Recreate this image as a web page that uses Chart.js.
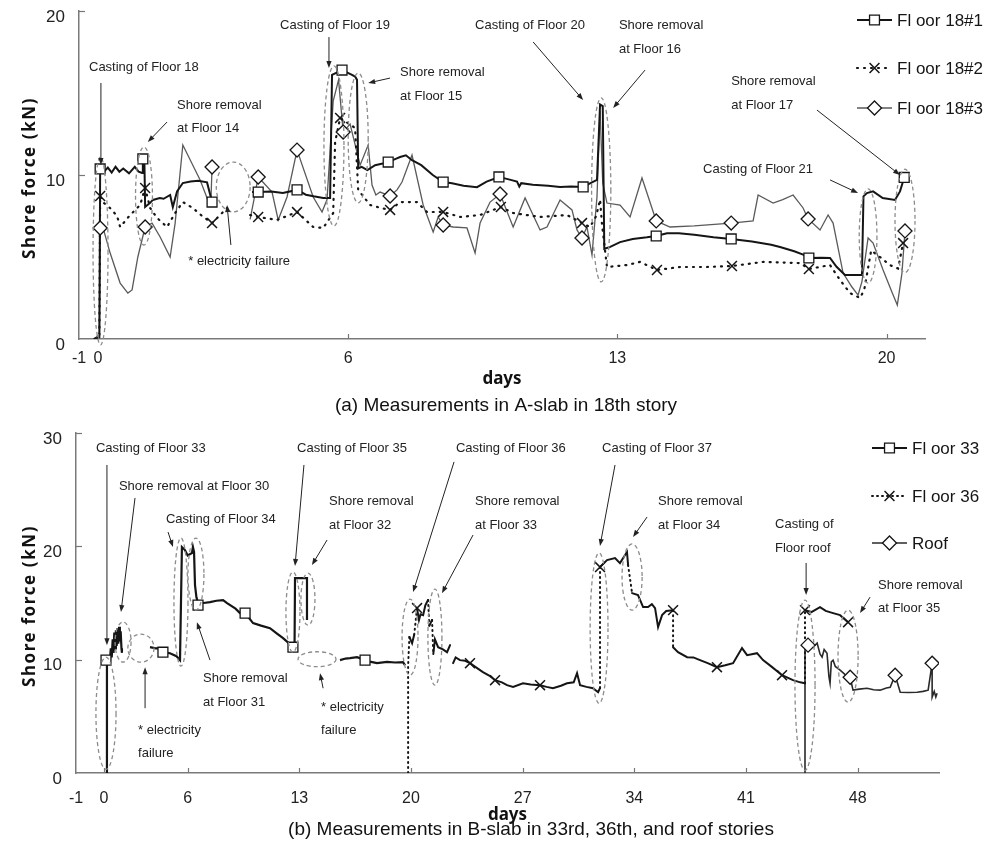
<!DOCTYPE html>
<html>
<head>
<meta charset="utf-8">
<script src="https://cdn.jsdelivr.net/npm/chart.js@4.4.0/dist/chart.umd.min.js"></script>
<style>
  body { margin: 0; background: #fff; }
  .box { position: absolute; left: 0; width: 991px; }
</style>
</head>
<body>
<div class="box" style="top:0"><canvas id="chartA" width="991" height="420"></canvas></div>
<div class="box" style="top:420px"><canvas id="chartB" width="991" height="430"></canvas></div>
<script>
// ---------- (a) A-slab, 18th story : [day, shore force kN] ----------
const floor18_1 = [[-0.60,0],[-0.47,0.1],[-0.45,10.37],[-0.35,10.2],[-0.25,10.45],[-0.15,10.15],[-0.05,10.5],[0.05,10.2],[0.15,10.4],[0.30,10.1],
  [0.45,10.5],[0.55,10.2],[0.64,10.12],[0.66,10.98],[0.70,10.95],[0.72,8.05],[0.85,8.3],[0.92,8.48],[1.10,8.6],[1.20,8.55],
  [1.37,8.78],[1.44,8.05],[1.55,9.0],[1.70,9.51],[1.90,9.6],[2.10,9.65],[2.33,9.55],[2.46,8.35],[3.0,null],[3.50,8.96],
  [3.66,8.96],[4.00,9.0],[4.30,8.9],[4.67,9.09],[4.90,8.8],[5.10,8.7],[5.35,8.6],[5.53,8.6],[5.58,16.1],[5.84,16.4],
  [6.10,16.1],[6.18,16.0],[6.23,15.8],[6.26,10.4],[6.35,10.5],[6.50,10.3],[6.70,10.6],[6.90,10.7],[7.04,10.79],[7.25,11.0],
  [7.35,11.1],[7.50,11.2],[7.66,10.9],[7.90,10.6],[8.20,10.0],[8.47,9.57],[8.70,9.5],[9.00,9.35],[9.35,9.26],[9.60,9.6],
  [9.92,9.88],[10.15,9.75],[10.39,9.6],[10.45,9.3],[10.50,9.5],[10.80,9.4],[11.20,9.35],[11.51,9.27],[11.80,9.3],[12.11,9.27],
  [12.30,9.5],[12.47,9.7],[12.55,14.3],[12.62,14.2],[12.66,5.5],[12.80,5.6],[13.07,5.91],[13.40,6.1],[13.77,6.2],[14.01,6.28],
  [14.29,6.45],[14.60,6.45],[15.00,6.35],[15.50,6.2],[15.96,6.10],[16.50,5.95],[17.00,5.75],[17.23,5.61],[17.60,5.35],[17.83,5.15],
  [17.98,4.94],[18.30,4.95],[18.53,4.94],[18.70,4.4],[18.92,3.9],[19.10,3.9],[19.36,3.9],[19.40,8.7],[19.49,8.9],[19.65,9.0],
  [19.90,8.6],[20.22,8.48],[20.35,9.0],[20.46,9.85]];
const floor18_2 = [[-0.60,0],[-0.47,0.2],[-0.45,8.72],[-0.38,8.35],[-0.20,8.0],[-0.01,7.5],[0.07,6.83],[0.33,7.56],[0.59,8.17],[0.72,9.21],
  [0.85,7.99],[1.03,7.38],[1.29,6.83],[1.50,7.68],[1.70,8.35],[1.96,7.99],[2.20,7.5],[2.46,7.07],[2.85,7.99],[3.1,null],
  [3.45,7.56],[3.66,7.44],[4.15,7.26],[4.67,7.74],[5.09,6.83],[5.35,6.77],[5.61,7.68],[5.66,12.0],[5.79,13.48],[6.18,12.87],
  [6.26,9.09],[6.57,8.17],[6.83,8.0],[7.09,7.87],[7.35,8.35],[7.79,8.35],[8.05,7.74],[8.47,7.75],[8.91,7.44],[9.43,7.56],
  [9.97,8.05],[10.29,7.68],[10.99,7.44],[11.69,7.56],[12.08,7.07],[12.29,6.83],[12.45,7.5],[12.55,8.5],[12.60,7.0],[12.73,4.39],
  [13.25,4.51],[13.59,4.70],[14.03,4.21],[14.63,4.39],[15.33,4.39],[15.98,4.45],[16.79,4.70],[17.75,4.63],[17.98,4.27],[18.53,4.51],
  [18.79,3.60],[19.05,2.80],[19.31,2.50],[19.42,3.0],[19.60,5.4],[19.83,5.0],[20.09,4.5],[20.30,4.3],[20.43,5.85]];
const floor18_3 = [[-0.60,0],[-0.47,0.3],[-0.45,6.77],[-0.38,6.83],[-0.19,5.24],[0.07,3.41],[0.27,2.80],[0.38,2.99],[0.53,5.0],[0.72,6.83],
  [0.90,7.07],[1.11,6.22],[1.37,5.0],[1.50,7.07],[1.70,11.83],[2.15,9.70],[2.35,8.48],[2.43,8.4],[2.46,10.49],[3.0,null],
  [3.45,7.3],[3.55,8.5],[3.66,9.88],[4.02,8.96],[4.18,7.26],[4.41,8.66],[4.67,11.52],[5.09,8.66],[5.32,7.74],[5.45,8.5],
  [5.61,14.5],[5.75,15.8],[5.87,12.62],[6.05,13.1],[6.31,10.6],[6.52,11.83],[6.62,9.39],[6.72,8.78],[6.83,8.96],[7.09,8.72],
  [7.27,9.09],[7.40,9.57],[7.66,11.22],[7.95,8.17],[8.21,6.52],[8.34,7.44],[8.47,6.95],[8.73,6.83],[9.09,6.77],[9.30,5.24],
  [9.43,7.07],[9.69,8.35],[9.95,8.84],[10.29,6.83],[10.60,8.60],[10.99,6.65],[11.17,6.83],[11.51,8.48],[11.82,7.87],[11.95,6.65],
  [12.08,6.16],[12.21,6.83],[12.34,5.12],[12.47,8.66],[12.55,13.9],[12.62,9.5],[12.73,8.29],[13.07,8.17],[13.33,7.44],[13.64,9.82],
  [13.77,8.90],[14.01,7.20],[14.37,6.83],[15.00,6.9],[15.96,7.07],[16.53,7.20],[16.66,8.78],[17.05,8.29],[17.30,8.5],[17.57,8.78],
  [17.83,7.99],[17.96,7.32],[18.27,6.65],[18.48,7.56],[18.61,7.07],[18.87,4.02],[19.10,3.17],[19.26,2.68],[19.36,3.5],[19.52,6.16],
  [19.65,5.85],[19.91,4.21],[20.15,2.80],[20.28,2.07],[20.40,4.0],[20.48,6.59]];
// marker positions (markers are sparse on the measured curves)
const mark18_1 = [[-0.45,10.37],[0.66,10.98],[2.46,8.35],[3.66,8.96],[4.67,9.09],[5.84,16.4],[7.04,10.79],[8.47,9.57],[9.92,9.88],[12.11,9.27],[14.01,6.28],[15.96,6.10],[17.98,4.94],[20.46,9.85]];
const mark18_2 = [[-0.45,8.72],[0.72,9.21],[2.46,7.07],[3.66,7.44],[4.67,7.74],[5.79,13.48],[7.09,7.87],[8.47,7.75],[9.97,8.05],[12.08,7.07],[14.03,4.21],[15.98,4.45],[17.98,4.27],[20.43,5.85]];
const mark18_3 = [[-0.45,6.77],[0.72,6.83],[2.46,10.49],[3.66,9.88],[4.67,11.52],[5.87,12.62],[7.09,8.72],[8.47,6.95],[9.95,8.84],[12.08,6.16],[14.01,7.20],[15.96,7.07],[17.96,7.32],[20.48,6.59]];
const ticksA = [-1, -0.51, 6, 13, 20];
const tickTextA = ['-1', '0', '6', '13', '20'];

// ---------- (b) B-slab, 33rd / 36th / roof ----------
const floor33 = [[0.88,0],[0.94,0],[0.94,9.9],[1.0,10.1],[1.13,9.96],[1.18,11.0],[1.24,10.2],[1.30,11.8],[1.35,10.6],[1.40,12.4],
  [1.45,11.0],[1.50,12.6],[1.55,11.2],[1.60,12.8],[1.65,11.4],[1.70,12.9],[1.75,11.6],[1.80,12.5],[1.85,11.0],[1.88,10.6],
  [2.5,null],[3.64,11.10],[4.0,11.0],[4.27,11.02],[4.45,10.66],[4.89,10.57],[5.30,10.3],[5.52,9.96],[5.64,19.94],[5.83,19.67],
  [6.0,19.2],[6.27,19.41],[6.33,19.94],[6.40,19.5],[6.46,16.58],[6.55,15.5],[6.65,14.99],[7.0,15.0],[7.40,15.08],[7.80,15.2],
  [8.22,15.26],[8.47,14.99],[9.0,14.5],[9.28,14.11],[9.60,14.11],[10.10,13.22],[10.60,13.0],[11.16,12.78],[11.60,12.3],[11.98,11.90],
  [12.30,11.5],[12.60,11.10],[12.70,11.2],[12.73,17.2],[13.10,17.2],[13.48,17.2],[13.48,13.49],[14.5,null],[15.55,9.96],[15.90,10.1],
  [16.18,10.13],[16.62,10.22],[17.12,9.96],[17.50,9.8],[17.87,9.69],[18.50,9.8],[19.0,9.75],[19.50,9.78],[19.63,9.5]];
const floor36 = [[19.82,0],[19.82,9.5],[19.90,12.0],[20.07,11.46],[20.20,12.2],[20.38,14.55],[20.50,13.5],[20.60,14.0],[20.76,13.93],[20.90,14.8],
  [21.07,15.26],[21.15,13.0],[21.32,13.5],[21.40,10.5],[21.50,11.8],[21.70,11.10],[22.0,10.9],[22.26,10.66],[22.45,11.28],[22.55,null],
  [22.64,9.69],[22.80,10.2],[23.07,9.96],[23.40,9.9],[23.70,9.69],[24.10,9.3],[24.51,8.90],[24.90,8.6],[25.27,8.19],[25.70,8.0],
  [26.02,7.75],[26.40,7.6],[27.02,7.92],[27.50,7.8],[28.09,7.75],[28.50,7.6],[28.90,7.48],[29.40,7.7],[29.78,7.92],[30.20,8.0],
  [30.41,8.81],[30.60,7.75],[31.0,7.6],[31.41,7.48],[31.73,7.13],[31.85,7.5],[31.85,18.17],[32.29,18.79],[32.79,18.97],[33.10,18.52],
  [33.54,19.50],[33.61,18.35],[33.86,15.87],[34.23,15.70],[34.55,14.64],[34.86,14.64],[35.10,14.9],[35.30,14.55],[35.49,12.87],[35.74,13.93],
  [36.0,14.3],[36.43,14.37],[36.43,11.10],[36.74,10.66],[37.31,10.22],[37.70,10.2],[38.12,9.96],[38.60,9.7],[39.18,9.34],[39.70,9.5],
  [40.19,9.69],[40.75,11.02],[41.07,10.40],[41.69,10.57],[42.07,9.96],[42.64,9.34],[43.26,8.63],[43.95,8.19],[44.40,8.0],[44.70,7.92],
  [44.70,14.37],[45.10,14.2],[45.64,14.64],[46.0,14.3],[46.46,14.11],[46.90,13.93],[47.40,13.31]];
const floorRoof = [[44.70,0],[44.70,11.0],[44.89,11.28],[45.20,11.1],[45.46,11.46],[45.64,10.5],[45.77,10.22],[45.90,10.9],[46.08,10.57],[46.20,8.5],
  [46.27,7.92],[46.35,9.8],[46.46,9.96],[46.60,9.4],[46.90,9.07],[47.20,8.7],[47.53,8.45],[47.71,7.31],[48.10,7.4],[48.59,7.48],
  [49.0,7.35],[49.41,7.31],[49.80,7.5],[50.04,7.57],[50.35,8.63],[50.67,7.13],[51.20,7.1],[51.73,7.13],[52.10,7.2],[52.42,7.31],
  [52.67,9.69],[52.67,6.69],[52.80,7.2],[52.90,6.7],[52.98,7.04]];
const mark33 = [[0.88,9.96],[4.45,10.66],[6.65,14.81],[9.60,14.11],[12.60,11.10],[17.12,9.96]];
const mark36 = [[20.38,14.55],[23.70,9.69],[25.27,8.19],[28.09,7.75],[31.85,18.17],[36.43,14.37],[39.18,9.34],[43.26,8.63],[44.70,14.37],[47.40,13.31]];
const markRoof = [[44.89,11.28],[47.53,8.45],[50.35,8.63],[52.67,9.69]];
const ticksB = [-1, 0.75, 6, 13, 20, 27, 34, 41, 48];
const tickTextB = ['-1', '0', '6', '13', '20', '27', '34', '41', '48'];

// ---------- annotations, anchored in data units ----------
const notesA = [
  ['Casting of Floor 18', -0.74, 16.59], ['Shore removal', 1.55, 14.27], ['at Floor 14', 1.55, 12.87],
  ['Casting of Floor 19', 4.23, 19.15], ['Shore removal', 7.35, 16.28], ['at Floor 15', 7.35, 14.82],
  ['Casting of Floor 20', 9.30, 19.15], ['Shore removal', 13.04, 19.15], ['at Floor 16', 13.04, 17.68],
  ['Shore removal', 15.96, 15.73], ['at Floor 17', 15.96, 14.27], ['Casting of Floor 21', 15.23, 10.37],
  ['* electricity failure', 1.84, 4.70]
];
const arrowsA = [
  [-0.43, 15.61, -0.43, 10.61], [1.29, 13.23, 0.79, 12.01], [5.50, 18.41, 5.50, 16.52], [7.09, 15.91, 6.52, 15.61],
  [10.81, 18.11, 12.11, 14.57], [13.72, 16.40, 12.89, 14.09], [18.19, 13.96, 20.35, 10.0], [18.53, 9.70, 19.26, 8.90],
  [2.95, 5.73, 2.85, 8.17]
];
const ringsA = [
  [-0.44, 5.37, 0.195, 5.73], [0.69, 8.72, 0.22, 2.99], [3.01, 9.27, 0.44, 1.52], [5.63, 11.77, 0.26, 4.88],
  [6.26, 12.26, 0.26, 3.96], [12.58, 9.09, 0.25, 5.61], [19.52, 6.28, 0.23, 2.87], [20.48, 7.20, 0.26, 3.15]
];
const notesB = [
  ['Casting of Floor 33', 0.25, 28.68], ['Shore removal at Floor 30', 1.69, 25.33], ['Casting of Floor 34', 4.64, 22.41],
  ['Casting of Floor 35', 12.86, 28.68], ['Shore removal', 14.86, 24.0], ['at Floor 32', 14.86, 21.88],
  ['Casting of Floor 36', 22.82, 28.68], ['Shore removal', 24.01, 24.0], ['at Floor 33', 24.01, 21.88],
  ['Casting of Floor 37', 31.98, 28.68], ['Shore removal', 35.49, 24.0], ['at Floor 34', 35.49, 21.88],
  ['Casting of', 42.82, 21.97], ['Floor roof', 42.82, 19.85], ['Shore removal', 49.28, 16.58], ['at Floor 35', 49.28, 14.55],
  ['Shore removal', 6.96, 8.37], ['at Floor 31', 6.96, 6.25], ['* electricity', 2.89, 3.77], ['failure', 2.89, 1.74],
  ['* electricity', 14.36, 5.80], ['failure', 14.36, 3.77]
];
const arrowsB = [
  [0.94, 27.18, 0.94, 11.28], [2.70, 24.27, 1.82, 14.2], [4.77, 21.26, 5.08, 19.94], [13.29, 27.18, 12.73, 18.26],
  [14.74, 20.56, 13.79, 18.35], [22.70, 27.45, 20.13, 15.96], [23.89, 21.0, 21.94, 15.87], [32.79, 27.18, 31.85, 20.03],
  [34.80, 22.59, 33.92, 20.82], [44.77, 18.53, 44.77, 15.70], [48.78, 15.52, 48.15, 14.11], [7.40, 9.96, 6.58, 13.31],
  [3.33, 5.72, 3.33, 9.34], [14.49, 7.48, 14.30, 8.81]
];
const ringsB = [
  [0.88, 5.27, 0.63, 4.95], [1.95, 11.55, 0.50, 1.77], [3.07, 11.02, 0.82, 1.24], [5.58, 15.08, 0.44, 5.65],
  [6.52, 17.55, 0.50, 3.18], [12.60, 14.20, 0.44, 3.53], [13.54, 15.34, 0.44, 2.30], [14.11, 10.04, 1.19, 0.66],
  [19.94, 11.99, 0.50, 3.36], [21.50, 11.99, 0.44, 4.24], [31.79, 12.78, 0.56, 6.63], [33.86, 17.29, 0.63, 2.92],
  [44.70, 7.75, 0.63, 7.51], [47.40, 10.31, 0.63, 4.06]
];

const toXY = arr => arr.map(([x, y]) => ({ x, y }));
const INK = '#151515';

function lineSet(data, color, width, dash) {
  return { data: toXY(data), showLine: true, borderColor: color, borderWidth: width, borderDash: dash || [],
    borderCapStyle: dash ? 'round' : 'butt', pointRadius: 0, pointHoverRadius: 0, tension: 0, spanGaps: false };
}
function markSet(data, style, width) {
  return { data: toXY(data), showLine: false, pointStyle: style, pointRadius: 7, pointHoverRadius: 7,
    pointBackgroundColor: '#fff', pointBorderColor: INK, pointBorderWidth: width };
}

// draws dashed rings, arrows, notes, inward ticks, legend and titles
const sketch = {
  id: 'sketch',
  afterDatasetsDraw(chart, args, o) {
    const { ctx, scales: { x, y } } = chart;
    ctx.save();
    ctx.strokeStyle = '#8c8c8c';
    ctx.lineWidth = 1.3;
    ctx.setLineDash([4, 3]);
    o.rings.forEach(([u, v, rx, ry]) => {
      const cx = x.getPixelForValue(u), cy = y.getPixelForValue(v);
      ctx.beginPath();
      ctx.ellipse(cx, cy, Math.abs(x.getPixelForValue(u + rx) - cx), Math.abs(cy - y.getPixelForValue(v + ry)), 0, 0, Math.PI * 2);
      ctx.stroke();
    });
    ctx.setLineDash([]);
    ctx.strokeStyle = '#222';
    ctx.fillStyle = '#222';
    ctx.lineWidth = 1;
    o.arrows.forEach(([u1, v1, u2, v2]) => {
      const ax = x.getPixelForValue(u1), ay = y.getPixelForValue(v1);
      const bx = x.getPixelForValue(u2), by = y.getPixelForValue(v2);
      const a = Math.atan2(by - ay, bx - ax), c = Math.cos(a), s = Math.sin(a);
      ctx.beginPath(); ctx.moveTo(ax, ay); ctx.lineTo(bx - 4 * c, by - 4 * s); ctx.stroke();
      ctx.beginPath();
      ctx.moveTo(bx, by);
      ctx.lineTo(bx - 7 * c + 2.6 * s, by - 7 * s - 2.6 * c);
      ctx.lineTo(bx - 7 * c - 2.6 * s, by - 7 * s + 2.6 * c);
      ctx.closePath(); ctx.fill();
    });
    ctx.font = '13px "Liberation Sans", Arial, sans-serif';
    ctx.textBaseline = 'middle';
    ctx.textAlign = 'left';
    o.notes.forEach(([t, u, v]) => ctx.fillText(t, x.getPixelForValue(u), y.getPixelForValue(v)));
    ctx.restore();
  },
  afterDraw(chart, args, o) {
    const { ctx, chartArea: area, scales: { x, y } } = chart;
    ctx.save();
    // inward tick marks
    ctx.strokeStyle = '#777';
    ctx.lineWidth = 1.2;
    x.ticks.forEach(t => {
      if (t.value <= x.min) return;
      const p = Math.round(x.getPixelForValue(t.value)) + 0.5;
      ctx.beginPath(); ctx.moveTo(p, area.bottom); ctx.lineTo(p, area.bottom - 5); ctx.stroke();
    });
    y.ticks.forEach(t => {
      if (t.value <= y.min) return;
      const p = Math.round(y.getPixelForValue(t.value)) + 0.5;
      ctx.beginPath(); ctx.moveTo(area.left, p); ctx.lineTo(area.left + 6, p); ctx.stroke();
    });
    // legend
    ctx.font = '17px "Liberation Sans", Arial, sans-serif';
    ctx.textBaseline = 'middle';
    ctx.fillStyle = INK;
    o.legend.forEach(([label, li, mi], k) => {
      const ly = o.legendRows[k], line = chart.data.datasets[li], mk = chart.data.datasets[mi];
      ctx.strokeStyle = line.borderColor;
      ctx.lineWidth = line.borderWidth;
      ctx.setLineDash(line.borderDash);
      ctx.lineCap = line.borderCapStyle;
      ctx.beginPath(); ctx.moveTo(o.legendLeft, ly); ctx.lineTo(o.legendLeft + 35, ly); ctx.stroke();
      ctx.setLineDash([]);
      ctx.lineCap = 'butt';
      ctx.strokeStyle = INK;
      ctx.fillStyle = '#fff';
      ctx.lineWidth = mk.pointBorderWidth;
      Chart.helpers.drawPoint(ctx, { pointStyle: mk.pointStyle, radius: 7, rotation: 0, borderWidth: mk.pointBorderWidth }, o.legendLeft + 17.5, ly);
      ctx.fillStyle = INK;
      ctx.fillText(label, o.legendLeft + 40, ly + 1);
    });
    // axis titles and caption
    ctx.fillStyle = '#111';
    ctx.textAlign = 'center';
    ctx.font = 'bold 17px "Noto Sans", "DejaVu Sans", sans-serif';
    ctx.fillText('days', (area.left + area.right) / 2, area.bottom + o.daysGap);
    ctx.save();
    ctx.translate(30, (area.top + area.bottom) / 2 + 3);
    ctx.rotate(-Math.PI / 2);
    ctx.letterSpacing = '1.6px';
    ctx.fillText('Shore force (kN)', 0, 0);
    ctx.restore();
    ctx.font = '19px "Liberation Sans", Arial, sans-serif';
    ctx.fillText(o.caption, o.captionX, area.bottom + o.captionGap);
    ctx.restore();
  }
};

function build(id, cfg) {
  return new Chart(document.getElementById(id), {
    type: 'scatter',
    data: { datasets: cfg.datasets },
    plugins: [sketch],
    options: {
      responsive: false,
      animation: false,
      events: [],
      layout: { padding: { top: cfg.padTop, right: cfg.padRight, left: 0, bottom: 0 } },
      scales: {
        x: {
          type: 'linear', min: -1, max: cfg.xMax,
          afterBuildTicks: s => { s.ticks = cfg.ticks.map(v => ({ value: v })); },
          afterFit: s => { s.height = cfg.xHeight; s.paddingLeft = 0; s.paddingRight = 0; },
          grid: { display: false, drawTicks: false },
          border: { display: true, color: '#7a7a7a', width: 1.5 },
          ticks: { autoSkip: false, maxRotation: 0, padding: cfg.xPad, color: '#222',
            font: { family: '"Liberation Sans", Arial, sans-serif', size: 16 },
            callback: (v, i) => cfg.tickText[i] }
        },
        y: {
          min: 0, max: cfg.yMax,
          afterFit: s => { s.width = cfg.yWidth; s.paddingTop = 0; s.paddingBottom = 0; },
          grid: { display: false, drawTicks: false },
          border: { display: true, color: '#7a7a7a', width: 1.5 },
          ticks: { stepSize: 10, padding: 14, labelOffset: 6, color: '#222',
            font: { family: '"Liberation Sans", Arial, sans-serif', size: 17 } }
        }
      },
      plugins: {
        legend: { display: false },
        tooltip: { enabled: false },
        sketch: cfg.sketch
      }
    }
  });
}

build('chartA', {
  datasets: [
    markSet(mark18_1, 'rect', 1.3),
    markSet(mark18_2, 'crossRot', 1.5),
    markSet(mark18_3, 'rectRot', 1.3),
    lineSet(floor18_1, INK, 2),
    lineSet(floor18_2, INK, 2.2, [1, 6]),
    lineSet(floor18_3, '#5a5a5a', 1.3)
  ],
  xMax: 21, yMax: 20, ticks: ticksA, tickText: tickTextA,
  padTop: 11, padRight: 66, xHeight: 81, yWidth: 79, xPad: 10,
  sketch: {
    notes: notesA, arrows: arrowsA, rings: ringsA,
    legend: [['Fl oor 18#1', 3, 0], ['Fl oor 18#2', 4, 1], ['Fl oor 18#3', 5, 2]],
    legendLeft: 857, legendRows: [20, 68, 108],
    daysGap: 40, caption: '(a) Measurements in A-slab in 18th story', captionX: 506, captionGap: 67
  }
});

// the dense 36th-floor record looks solid where it wanders, dotted only on its jumps
const floor36Line = lineSet(floor36, INK, 2.2, [1, 4]);
floor36Line.segment = { borderDash: c => Math.abs(c.p1.parsed.y - c.p0.parsed.y) > 2 ? undefined : [] };
floor36Line.borderWidth = 2;

build('chartB', {
  datasets: [
    markSet(mark33, 'rect', 1.3),
    markSet(mark36, 'crossRot', 1.5),
    markSet(markRoof, 'rectRot', 1.3),
    lineSet(floor33, INK, 2.2),
    floor36Line,
    lineSet(floorRoof, '#2a2a2a', 1.6)
  ],
  xMax: 53.1, yMax: 30, ticks: ticksB, tickText: tickTextB,
  padTop: 13, padRight: 52, xHeight: 77, yWidth: 76, xPad: 16,
  sketch: {
    notes: notesB, arrows: arrowsB, rings: ringsB,
    legend: [['Fl oor 33', 3, 0], ['Fl oor 36', 4, 1], ['Roof', 5, 2]],
    legendLeft: 872, legendRows: [28, 76, 123],
    daysGap: 42, caption: '(b) Measurements in B-slab in 33rd, 36th, and roof stories', captionX: 531, captionGap: 57
  }
});
</script>
</body>
</html>
